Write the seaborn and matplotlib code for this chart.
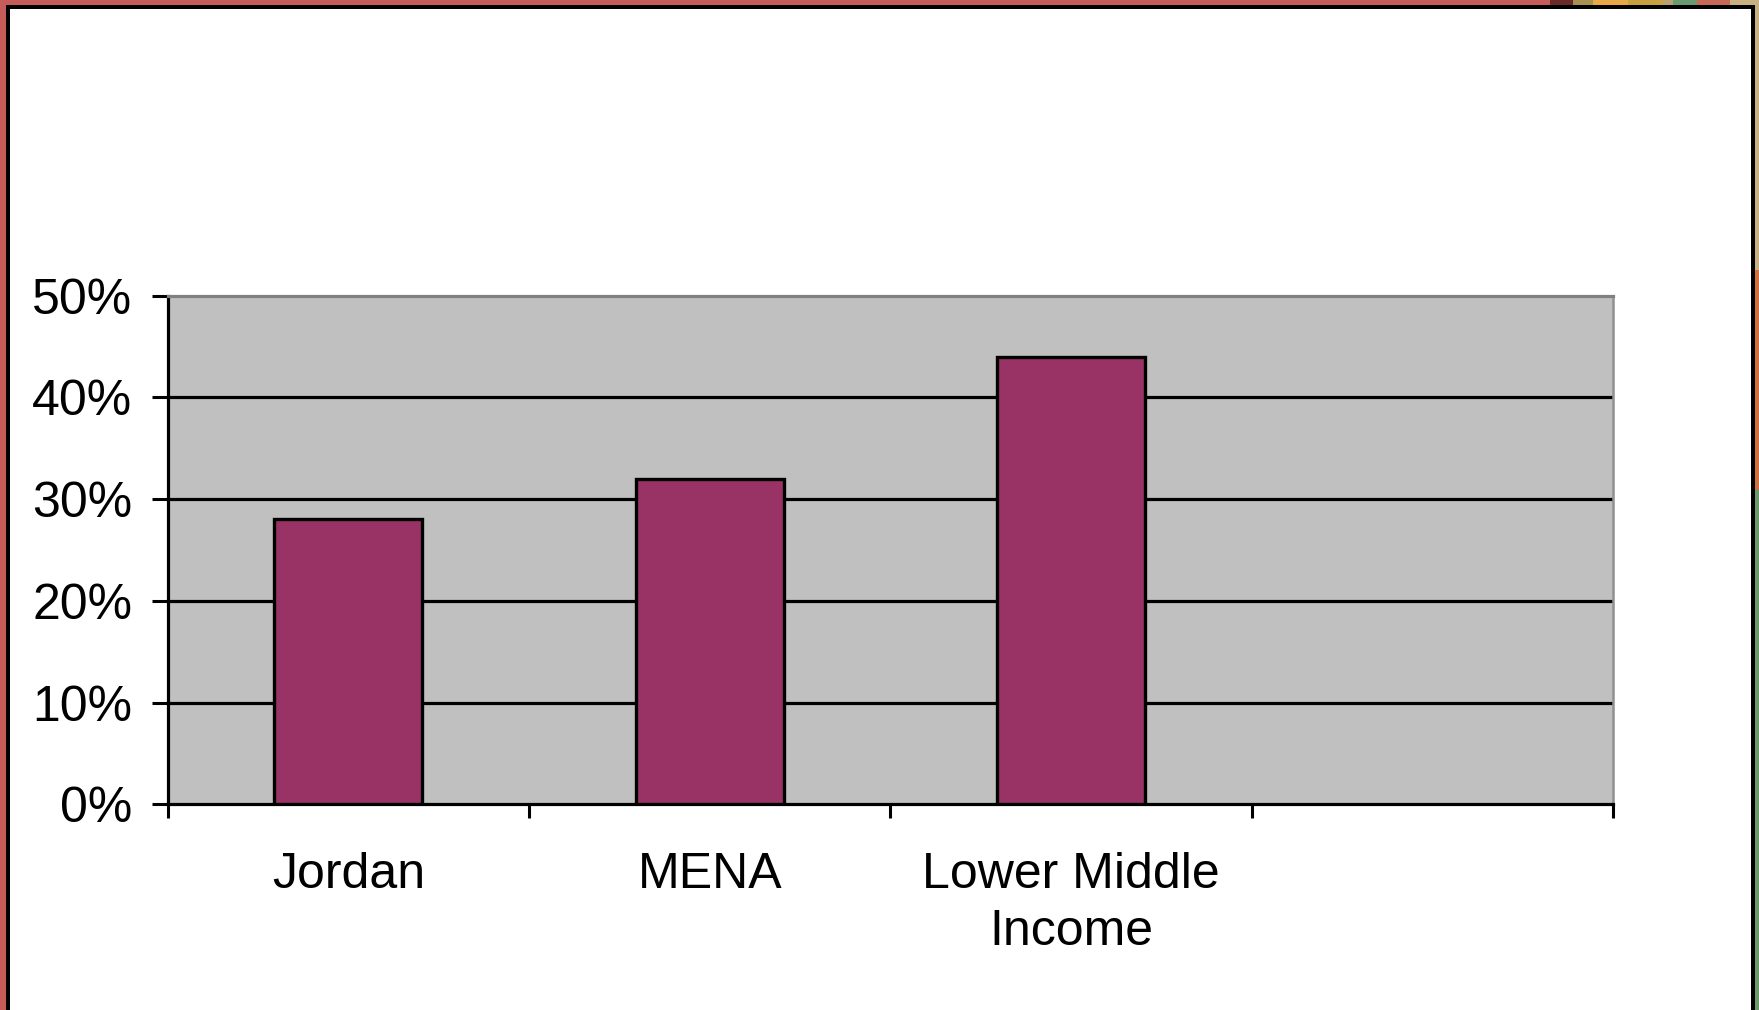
import matplotlib
matplotlib.use("Agg")
import matplotlib.pyplot as plt
from matplotlib.patches import Rectangle
import seaborn as sns
import pandas as pd

# Share of population (fraction) by region
categories = ["Jordan", "MENA", "Lower Middle\nIncome"]
values = [0.28, 0.32, 0.44]
y_ticks = [0.0, 0.1, 0.2, 0.3, 0.4, 0.5]
y_tick_labels = ["0%", "10%", "20%", "30%", "40%", "50%"]

BAR_COLOR = "#993366"
PLOT_BG = "#c0c0c0"

sns.set_theme(style="white")
plt.rcParams["font.family"] = ["Liberation Sans", "DejaVu Sans"]

W, H = 1759, 1010
fig = plt.figure(figsize=(W / 100, H / 100), dpi=100)
fig.patch.set_facecolor("white")

# Slide frame: red outer band, decorative strip at the top right and right edge, black inner frame
def px_rect(x0, y0, x1, y1, color, z=0):
    fig.patches.append(Rectangle((x0 / W, 1 - y1 / H), (x1 - x0) / W, (y1 - y0) / H,
                                 transform=fig.transFigure, facecolor=color,
                                 edgecolor="none", zorder=z))

px_rect(0, 0, 7, H, "#c65c5a")
px_rect(0, 0, 1560, 6, "#c65c5a")
px_rect(1550, 0, 1573, 6, "#6a2a28")
strip = [(1573, 1593, "#a89050"), (1593, 1628, "#e8a848"), (1628, 1663, "#c8a040"),
         (1663, 1673, "#b8a070"), (1673, 1697, "#6a9a70"), (1697, 1730, "#c86858"),
         (1730, 1759, "#c8b080")]
for x0, x1, c in strip:
    px_rect(x0, 0, x1, 6, c)
px_rect(1754, 0, W, 270, "#c8b080")
px_rect(1754, 270, W, 490, "#d07040")
px_rect(1754, 490, W, H, "#6a9a6a")
px_rect(6, 5, 1755, 9, "black", 1)
px_rect(6, 5, 10, H, "black", 1)
px_rect(1751, 5, 1755, H, "black", 1)

# Plot area
ax = fig.add_axes([167.7 / W, 1 - 804.3 / H, (1613.3 - 167.7) / W, (804.3 - 295.7) / H])
ax.set_facecolor(PLOT_BG)

df = pd.DataFrame({"category": categories, "value": values})
sns.barplot(data=df, x="category", y="value", order=categories, color=BAR_COLOR,
            saturation=1, width=0.41, edgecolor="black", linewidth=2.4, ax=ax, zorder=3)

ax.set_xlim(-0.5, 3.5)
ax.set_ylim(0, 0.5)

# Horizontal gridlines at the inner ticks
for yv in y_ticks[1:-1]:
    ax.axhline(yv, color="black", linewidth=2.3, zorder=1)

ax.set_yticks(y_ticks)
ax.set_yticklabels(y_tick_labels)
ax.tick_params(axis="y", direction="out", length=11.5, width=2.2, color="black",
               pad=14, labelsize=36, labelcolor="black", left=True)

# Category labels sit between boundary ticks
ax.set_xticks(range(len(categories)))
ax.set_xticklabels(categories, linespacing=1.32)
ax.tick_params(axis="x", which="major", length=0, pad=34, labelsize=36, labelcolor="black")
ax.set_xticks([-0.5, 0.5, 1.5, 2.5, 3.5], minor=True)
ax.tick_params(axis="x", which="minor", direction="out", length=10, width=2.2,
               color="black", bottom=True)

ax.set_xlabel("")
ax.set_ylabel("")

for side in ["left", "bottom"]:
    ax.spines[side].set_color("black")
    ax.spines[side].set_linewidth(2.3)
ax.spines["top"].set_color("#808080")
ax.spines["top"].set_linewidth(2.3)
ax.spines["right"].set_color("#909090")
ax.spines["right"].set_linewidth(1.8)
for s in ax.spines.values():
    s.set_visible(True)

fig.savefig("out.png", dpi=100)
